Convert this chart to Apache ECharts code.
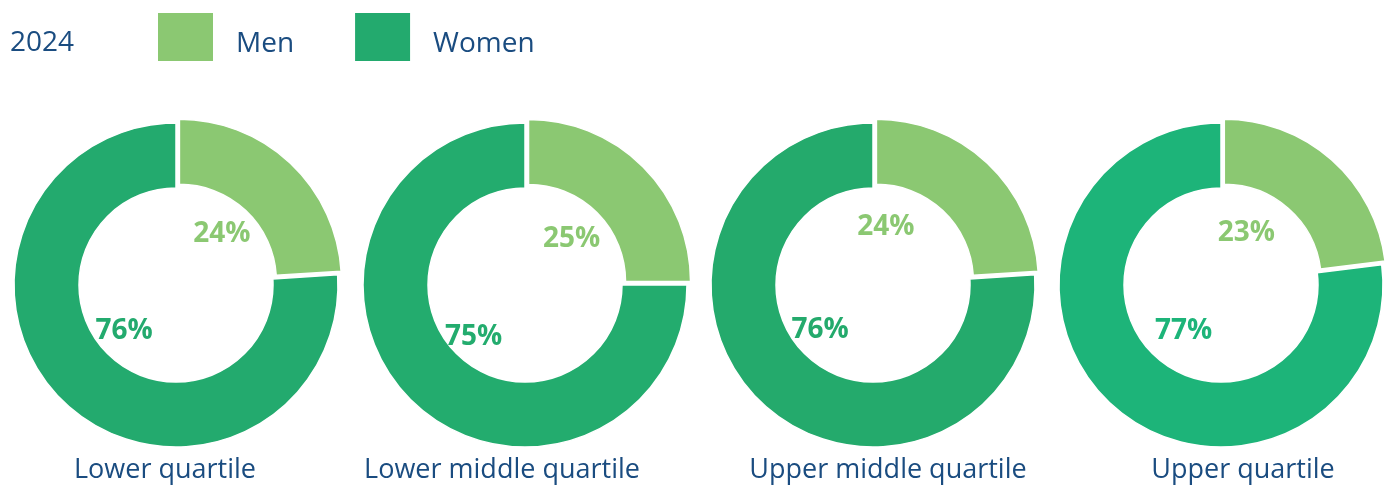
<!DOCTYPE html>
<html>
<head>
<meta charset="utf-8">
<script src="https://cdn.jsdelivr.net/npm/echarts@6/dist/echarts.min.js"></script>
<style>
  html, body { margin: 0; padding: 0; background: #fff; }
  #chart { width: 1395px; height: 488px; }
</style>
</head>
<body>
<div id="chart"></div>
<script>
  var year = '2024'
  var categories = ['Lower quartile', 'Lower middle quartile', 'Upper middle quartile', 'Upper quartile']
  var seriesNames = ['Men', 'Women']
  var menShare = [24, 25, 24, 23]
  var womenShare = [76, 75, 76, 77]

  var menColor = '#8BC872'
  var womenColors = ['#23AA6E', '#23AC6E', '#24AA6C', '#1DB479']
  var textColor = '#1A4C80'
  var font = 'Open Sans'

  var centersX = [176, 525, 873, 1221]
  var centerY = 285
  var titleX = [160, 497, 883, 1238]
  // small hand nudges of the percentage labels, [men, women] per ring
  var labelNudge = [
    [[-2, 0], [-4, -5]],
    [[-3, 4], [-2, 3]],
    [[-35, -7], [-5, -6]],
    [[-21, 1], [9, -6]]
  ]

  var chart = echarts.init(document.getElementById('chart'))

  var series = []
  categories.forEach(function (cat, i) {
    var data = [
      { name: seriesNames[0], value: menShare[i], selected: true, itemStyle: { color: menColor } },
      { name: seriesNames[1], value: womenShare[i], itemStyle: { color: womenColors[i] } }
    ]
    // the ring
    series.push({
      type: 'pie',
      name: cat,
      center: [centersX[i], centerY],
      radius: [97, 162],
      startAngle: 90,
      clockwise: true,
      selectedMode: 'single',
      selectedOffset: 5,
      silent: true,
      animation: false,
      itemStyle: { borderColor: '#fff', borderWidth: 1.5 },
      select: { itemStyle: { borderColor: '#fff', borderWidth: 1.5 } },
      label: { show: false },
      labelLine: { show: false },
      data: data
    })
    // invisible copy to put the percentages inside the hole
    series.push({
      type: 'pie',
      name: cat + ' labels',
      center: [centersX[i], centerY],
      radius: [0, 134],
      startAngle: 90,
      silent: true,
      animation: false,
      legendHoverLink: false,
      itemStyle: { color: 'rgba(0,0,0,0)', borderWidth: 0 },
      label: {
        show: true,
        position: 'inside',
        formatter: '{c}%',
        fontFamily: font,
        fontWeight: 'bold',
        fontSize: 28
      },
      labelLine: { show: false },
      data: data.map(function (d, k) {
        return {
          name: d.name,
          value: d.value,
          label: { color: d.itemStyle.color, offset: labelNudge[i][k] }
        }
      })
    })
  })

  var titles = [{
    text: year,
    left: 5,
    top: 24,
    textStyle: { color: textColor, fontFamily: font, fontSize: 28, fontWeight: 'normal' }
  }]
  categories.forEach(function (cat, i) {
    titles.push({
      text: cat,
      left: titleX[i],
      top: 452,
      textAlign: 'center',
      textStyle: { color: textColor, fontFamily: font, fontSize: 27, fontWeight: 'normal' }
    })
  })

  var option = {
    backgroundColor: '#fff',
    title: titles,
    legend: {
      data: seriesNames,
      left: 151,
      top: 6,
      icon: 'rect',
      itemWidth: 57,
      itemHeight: 50,
      itemGap: 59,
      selectedMode: false,
      formatter: '{n|{name}}',
      textStyle: {
        color: textColor,
        fontFamily: font,
        fontSize: 28,
        padding: [0, 0, 0, 17],
        rich: {
          n: {
            color: textColor,
            fontFamily: font,
            fontSize: 28,
            padding: [14, 0, 0, 0]
          }
        }
      }
    },
    series: series
  }

  chart.setOption(option)
</script>
</body>
</html>
